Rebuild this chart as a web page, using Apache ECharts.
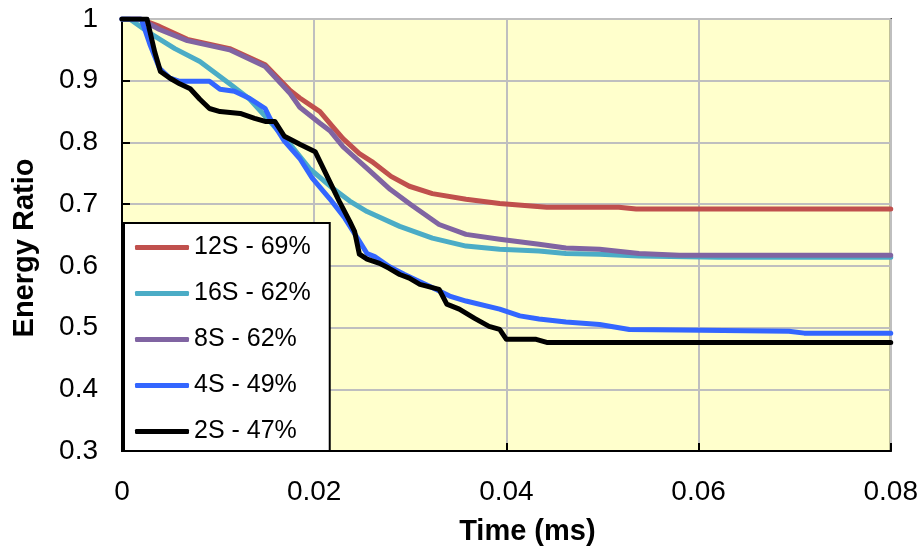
<!DOCTYPE html>
<html>
<head>
<meta charset="UTF-8">
<title>Energy Ratio</title>
<script src="https://cdn.jsdelivr.net/npm/echarts@6/dist/echarts.min.js"></script>
<style>
body { margin: 0; padding: 0; background: #fff; }
#main { width: 921px; height: 555px; }
</style>
</head>
<body>
<div id="main"></div>
<script>
// series names (legend order)
var names = ['12S - 69%', '16S - 62%', '8S - 62%', '4S - 49%', '2S - 47%'];
var colors = ['#C0504D', '#4BACC6', '#8064A2', '#3366FF', '#000000'];

// [time (ms), energy ratio]
var s12 = [[0,1],[0.0019,1],[0.0039,0.988],[0.0068,0.967],[0.0112,0.952],[0.0149,0.926],[0.0175,0.884],
  [0.0185,0.872],[0.0206,0.85],[0.0219,0.826],[0.023,0.806],[0.0247,0.782],[0.026,0.769],[0.028,0.745],
  [0.0299,0.729],[0.0323,0.717],[0.0358,0.708],[0.0393,0.701],[0.0442,0.695],[0.0517,0.695],[0.0535,0.692],[0.08,0.692]];
var s16 = [[0,1],[0.0008,1],[0.0029,0.977],[0.0055,0.952],[0.0081,0.931],[0.0112,0.895],[0.0133,0.87],
  [0.0154,0.834],[0.0175,0.797],[0.0195,0.758],[0.0219,0.726],[0.0237,0.705],[0.0255,0.688],[0.0289,0.664],
  [0.0323,0.645],[0.0358,0.632],[0.0393,0.627],[0.0434,0.624],[0.0462,0.62],[0.0497,0.619],[0.0538,0.616],
  [0.062,0.614],[0.08,0.614]];
var s8 = [[0,1],[0.0019,1],[0.0039,0.983],[0.0068,0.965],[0.0112,0.95],[0.0149,0.923],[0.0175,0.879],
  [0.0185,0.857],[0.0206,0.831],[0.0217,0.818],[0.023,0.793],[0.0255,0.758],[0.0279,0.724],[0.03,0.70],
  [0.033,0.667],[0.0358,0.651],[0.0393,0.643],[0.0434,0.635],[0.0462,0.629],[0.0497,0.627],[0.0538,0.62],
  [0.058,0.617],[0.08,0.617]];
var s4 = [[0,1],[0.002,1],[0.0029,0.959],[0.0039,0.92],[0.005,0.904],[0.006,0.899],[0.0091,0.899],
  [0.0102,0.886],[0.0117,0.883],[0.0133,0.871],[0.0149,0.855],[0.0154,0.839],[0.0169,0.802],[0.0185,0.774],
  [0.0198,0.742],[0.0216,0.709],[0.0232,0.677],[0.0247,0.64],[0.0255,0.62],[0.0263,0.615],[0.0278,0.599],
  [0.0294,0.586],[0.032,0.567],[0.0341,0.551],[0.0358,0.543],[0.0393,0.53],[0.0414,0.519],[0.0434,0.514],
  [0.0462,0.509],[0.0497,0.505],[0.0528,0.497],[0.058,0.496],[0.0694,0.494],[0.071,0.491],[0.08,0.491]];
var s2 = [[0,1],[0.0026,1],[0.0034,0.947],[0.004,0.915],[0.005,0.904],[0.006,0.895],[0.0071,0.887],
  [0.0081,0.87],[0.0091,0.855],[0.0102,0.85],[0.0123,0.847],[0.0138,0.839],[0.0149,0.834],[0.0159,0.834],
  [0.0169,0.81],[0.0185,0.797],[0.0201,0.785],[0.0211,0.753],[0.0226,0.705],[0.0237,0.672],[0.0242,0.656],
  [0.0247,0.619],[0.0255,0.611],[0.0268,0.604],[0.0278,0.596],[0.0289,0.586],[0.0299,0.58],[0.031,0.57],
  [0.033,0.562],[0.0338,0.538],[0.0351,0.53],[0.0367,0.515],[0.0382,0.502],[0.0393,0.497],[0.04,0.481],
  [0.0431,0.481],[0.0442,0.476],[0.08,0.476]];
var seriesData = [s12, s16, s8, s4, s2];

var chart = echarts.init(document.getElementById('main'));
var font = 'Liberation Sans, Arial, sans-serif';

function fmt(v) { return String(parseFloat(v.toFixed(3))); }

var series = [];
for (var i = 0; i < names.length; i++) {
  series.push({
    name: names[i],
    type: 'line',
    data: seriesData[i],
    symbol: 'none',
    showSymbol: false,
    lineStyle: { color: colors[i], width: 5, cap: 'round', join: 'round' },
    itemStyle: { color: colors[i] },
    animation: false
  });
}

var option = {
  animation: false,
  textStyle: { fontFamily: font },
  grid: {
    left: 122, right: 29, top: 19, bottom: 104,
    show: true, backgroundColor: '#FFFFCC', borderColor: '#000', borderWidth: 2
  },
  legend: {
    orient: 'vertical',
    left: 124, top: 223,
    icon: 'roundRect',
    itemWidth: 54, itemHeight: 5, itemGap: 21, itemTextGap: 8,
    padding: [12, 19, 7, 11],
    backgroundColor: '#fff', borderColor: '#000', borderWidth: 2,
    textStyle: { fontSize: 25, lineHeight: 25, color: '#000', fontFamily: font },
    data: names
  },
  xAxis: {
    type: 'value', min: 0, max: 0.08, interval: 0.02,
    name: 'Time (ms)', nameLocation: 'middle', nameGap: 66,
    nameTextStyle: { fontSize: 29, fontWeight: 'bold', color: '#000', padding: [0, 0, 0, 42] },
    axisLine: { lineStyle: { color: '#000', width: 2 } },
    axisTick: { inside: true, length: 8, lineStyle: { color: '#000', width: 2 } },
    axisLabel: { fontSize: 28, color: '#000', margin: 27, formatter: fmt },
    splitLine: { show: true, lineStyle: { color: '#BFBFBF', width: 2 } }
  },
  yAxis: {
    type: 'value', min: 0.3, max: 1, interval: 0.1,
    name: 'Energy Ratio', nameLocation: 'middle', nameGap: 83,
    nameTextStyle: { fontSize: 29, fontWeight: 'bold', color: '#000', padding: [0, 26, 0, 0] },
    axisLine: { show: true, lineStyle: { color: '#000', width: 2 } },
    axisTick: { show: true, inside: true, length: 8, lineStyle: { color: '#000', width: 2 } },
    axisLabel: { fontSize: 28, color: '#000', margin: 24, formatter: fmt },
    splitLine: { show: true, lineStyle: { color: '#BFBFBF', width: 2 } }
  },
  series: series
};
chart.setOption(option);
</script>
</body>
</html>
